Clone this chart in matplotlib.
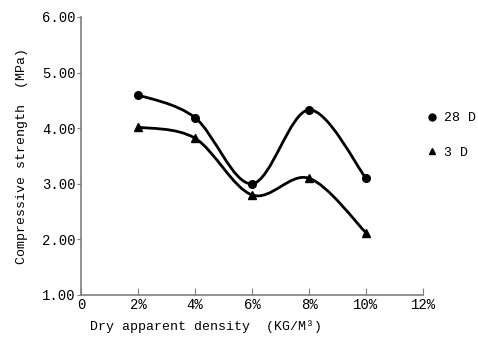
import numpy as np
import matplotlib
matplotlib.use("Agg")
import matplotlib.pyplot as plt
from matplotlib.path import Path
from matplotlib.patches import PathPatch
from matplotlib.lines import Line2D

# data
density = [2, 4, 6, 8, 10]          # %
strength_28d = [4.60, 4.19, 3.00, 4.33, 3.10]
strength_3d = [4.02, 3.82, 2.80, 3.10, 2.12]
x_ticks = [0, 2, 4, 6, 8, 10, 12]
x_tick_labels = ["0", "2%", "4%", "6%", "8%", "10%", "12%"]
y_ticks = [1, 2, 3, 4, 5, 6]
y_tick_labels = ["1.00", "2.00", "3.00", "4.00", "5.00", "6.00"]

font = "Liberation Mono"
grey = "#7f7f7f"


def smooth_path(xs, ys, t=1/6):
    # catmull-rom style bezier through the points
    pts = np.column_stack([xs, ys]).astype(float)
    verts = [pts[0]]
    codes = [Path.MOVETO]
    n = len(pts)
    for i in range(n - 1):
        p0 = pts[i - 1] if i > 0 else pts[i]
        p1 = pts[i]
        p2 = pts[i + 1]
        p3 = pts[i + 2] if i + 2 < n else pts[i + 1]
        c1 = p1 + (p2 - p0) * t
        c2 = p2 - (p3 - p1) * t
        verts += [c1, c2, p2]
        codes += [Path.CURVE4] * 3
    return Path(verts, codes)


fig = plt.figure(figsize=(4.78, 3.40), dpi=100)
ax = fig.add_axes([81 / 478, 1 - 295 / 340, 342 / 478, 278 / 340])

for ys, mk in [(strength_28d, "o"), (strength_3d, "^")]:
    ax.add_patch(PathPatch(smooth_path(density, ys), facecolor="none",
                           edgecolor="black", lw=2.0))
    ax.plot(density, ys, linestyle="none", marker=mk, color="black", markersize=5.5)

ax.set_xlim(0, 12)
ax.set_ylim(1, 6)
ax.set_xticks(x_ticks)
ax.set_xticklabels(x_tick_labels, fontfamily=font, fontsize=10)
ax.set_yticks(y_ticks)
ax.set_yticklabels(y_tick_labels, fontfamily=font, fontsize=10)
ax.tick_params(axis="x", direction="in", length=5, color=grey, pad=2)
ax.tick_params(axis="y", direction="out", length=3, color=grey, pad=1)
for s in ["top", "right"]:
    ax.spines[s].set_visible(False)
for s in ["left", "bottom"]:
    ax.spines[s].set_color(grey)
    ax.spines[s].set_linewidth(1.2)

ax.set_ylabel("Compressive strength  (MPa)", fontfamily=font, fontsize=9.5, labelpad=10)
fig.text(206 / 478, 1 - 327 / 340, "Dry apparent density  (KG/M³)",
         fontfamily=font, fontsize=9.5, ha="center", va="center")

handles = [Line2D([], [], marker="o", color="black", linestyle="none", markersize=5),
           Line2D([], [], marker="^", color="black", linestyle="none", markersize=5)]
leg = ax.legend(handles, ["28 D", "3 D"], loc="upper left",
                bbox_to_anchor=(1.0 + 4 / 342, (295 - 112) / 278),
                frameon=False, prop={"family": font, "size": 9.5},
                handletextpad=0.5, labelspacing=1.7, handlelength=0.8,
                borderpad=0, borderaxespad=0)

fig.savefig("out.png", dpi=100)
